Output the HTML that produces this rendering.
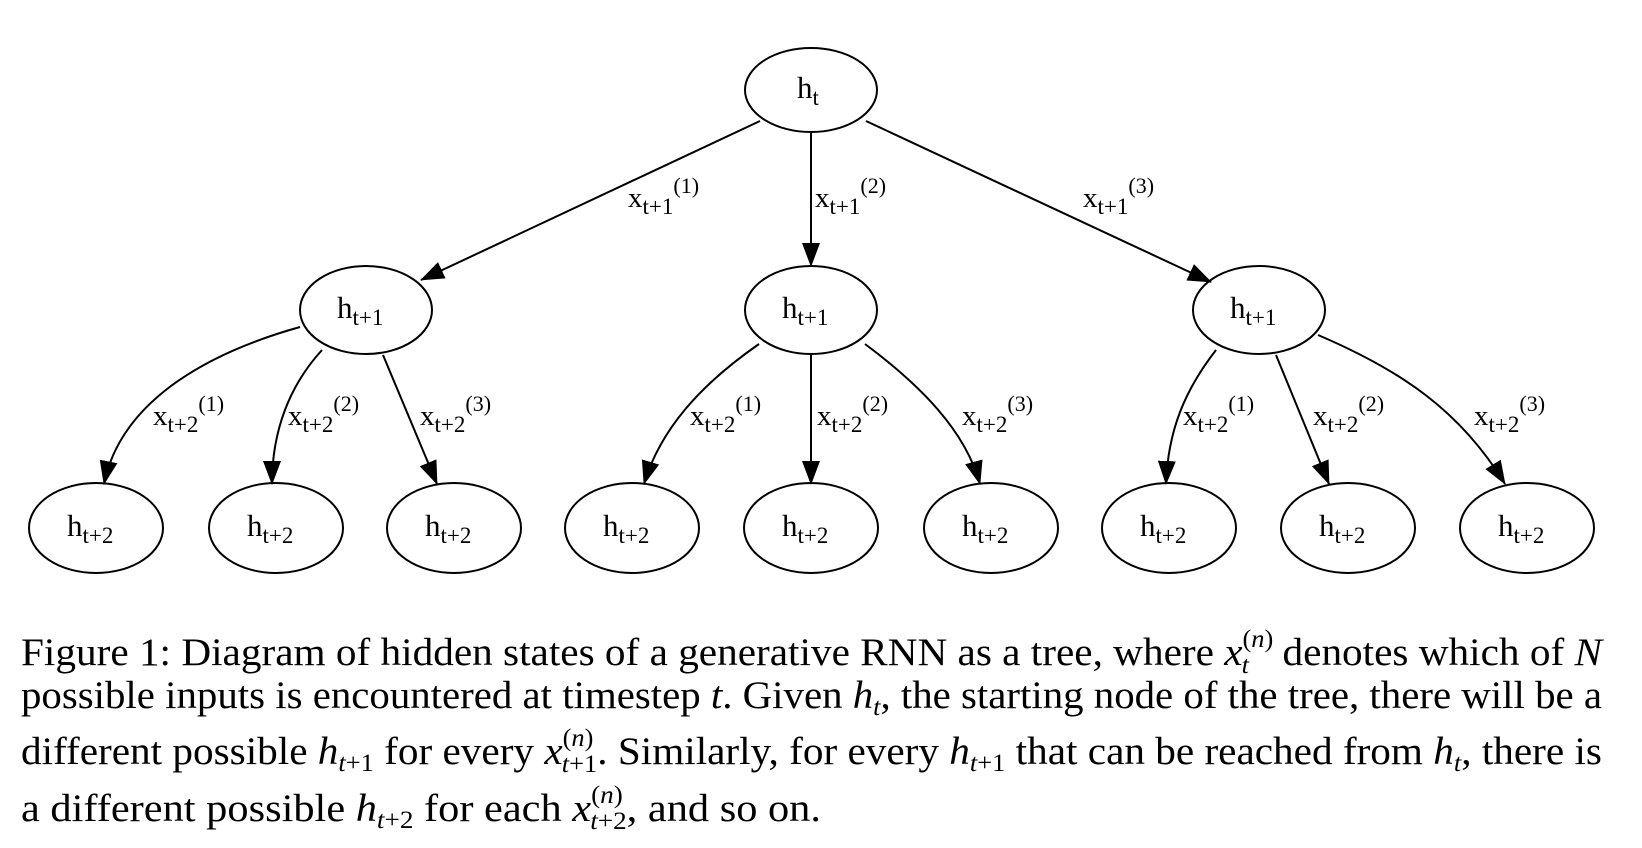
<!DOCTYPE html>
<html><head><meta charset="utf-8"><style>
html,body{margin:0;padding:0;background:#fff;}
svg{display:block;}
text{font-family:"Liberation Serif",serif;fill:#000;}
</style></head><body>
<svg width="1642" height="848" viewBox="0 0 1642 848" xmlns="http://www.w3.org/2000/svg">
<defs>
<marker id="a" markerWidth="24" markerHeight="18" refX="23" refY="9" orient="auto" markerUnits="userSpaceOnUse">
<path d="M0,0 L24,9 L0,18 Z" fill="#000"/>
</marker>
</defs>
<g fill="none" stroke="#000" stroke-width="2">
<ellipse cx="811" cy="90" rx="66" ry="42"/>
<ellipse cx="366" cy="310" rx="66" ry="44"/>
<ellipse cx="811" cy="310" rx="66" ry="44"/>
<ellipse cx="1259" cy="310" rx="66" ry="44"/>
<ellipse cx="96" cy="528" rx="67" ry="45"/>
<ellipse cx="276" cy="528" rx="67" ry="45"/>
<ellipse cx="454" cy="528" rx="67" ry="45"/>
<ellipse cx="632" cy="528" rx="67" ry="45"/>
<ellipse cx="811" cy="528" rx="67" ry="45"/>
<ellipse cx="991" cy="528" rx="67" ry="45"/>
<ellipse cx="1169" cy="528" rx="67" ry="45"/>
<ellipse cx="1348" cy="528" rx="67" ry="45"/>
<ellipse cx="1527" cy="528" rx="67" ry="45"/>
<g marker-end="url(#a)">
<path d="M760,121 L421,280"/>
<path d="M811,133 L811,266"/>
<path d="M866,121 L1211,282"/>
<path d="M300,327 C200,355 120,405 104,484"/>
<path d="M322,350 C290,385 272,430 272,484"/>
<path d="M383,355 L437,484"/>
<path d="M759,344 C700,385 660,430 644,484"/>
<path d="M811,354 L811,484"/>
<path d="M865,344 C920,385 965,430 980,484"/>
<path d="M1216,350 C1185,390 1168,430 1166,484"/>
<path d="M1276,355 L1329,484"/>
<path d="M1318,335 C1400,370 1460,410 1505,484"/>
</g>
</g>
<g font-size="31">
<text x="797" y="98">h<tspan font-size="23" dy="7">t</tspan></text>
<text x="337" y="318">h<tspan font-size="23" dy="7">t+1</tspan></text>
<text x="782" y="318">h<tspan font-size="23" dy="7">t+1</tspan></text>
<text x="1230" y="318">h<tspan font-size="23" dy="7">t+1</tspan></text>
<text x="67" y="536">h<tspan font-size="23" dy="7">t+2</tspan></text>
<text x="247" y="536">h<tspan font-size="23" dy="7">t+2</tspan></text>
<text x="425" y="536">h<tspan font-size="23" dy="7">t+2</tspan></text>
<text x="603" y="536">h<tspan font-size="23" dy="7">t+2</tspan></text>
<text x="782" y="536">h<tspan font-size="23" dy="7">t+2</tspan></text>
<text x="962" y="536">h<tspan font-size="23" dy="7">t+2</tspan></text>
<text x="1140" y="536">h<tspan font-size="23" dy="7">t+2</tspan></text>
<text x="1319" y="536">h<tspan font-size="23" dy="7">t+2</tspan></text>
<text x="1498" y="536">h<tspan font-size="23" dy="7">t+2</tspan></text>
</g>
<g font-size="29">
<text x="628" y="207">x<tspan font-size="23" dy="7">t+1</tspan><tspan font-size="22" dy="-21">(1)</tspan></text>
<text x="815" y="207">x<tspan font-size="23" dy="7">t+1</tspan><tspan font-size="22" dy="-21">(2)</tspan></text>
<text x="1083" y="207">x<tspan font-size="23" dy="7">t+1</tspan><tspan font-size="22" dy="-21">(3)</tspan></text>
<text x="153" y="425">x<tspan font-size="23" dy="7">t+2</tspan><tspan font-size="22" dy="-21">(1)</tspan></text>
<text x="288" y="425">x<tspan font-size="23" dy="7">t+2</tspan><tspan font-size="22" dy="-21">(2)</tspan></text>
<text x="420" y="425">x<tspan font-size="23" dy="7">t+2</tspan><tspan font-size="22" dy="-21">(3)</tspan></text>
<text x="690" y="425">x<tspan font-size="23" dy="7">t+2</tspan><tspan font-size="22" dy="-21">(1)</tspan></text>
<text x="817" y="425">x<tspan font-size="23" dy="7">t+2</tspan><tspan font-size="22" dy="-21">(2)</tspan></text>
<text x="962" y="425">x<tspan font-size="23" dy="7">t+2</tspan><tspan font-size="22" dy="-21">(3)</tspan></text>
<text x="1183" y="425">x<tspan font-size="23" dy="7">t+2</tspan><tspan font-size="22" dy="-21">(1)</tspan></text>
<text x="1313" y="425">x<tspan font-size="23" dy="7">t+2</tspan><tspan font-size="22" dy="-21">(2)</tspan></text>
<text x="1474" y="425">x<tspan font-size="23" dy="7">t+2</tspan><tspan font-size="22" dy="-21">(3)</tspan></text>
</g>
<g font-size="39">
<text x="21" y="665" textLength="1581" lengthAdjust="spacingAndGlyphs">Figure 1: Diagram of hidden states of a generative RNN as a tree, where <tspan font-style="italic">x</tspan><tspan font-size="25" dy="-18">(<tspan font-style="italic">n</tspan>)</tspan><tspan font-style="italic" font-size="25" dx="-30" dy="26">t</tspan><tspan dx="22" dy="-8"> denotes which of </tspan><tspan font-style="italic">N</tspan></text>
<text x="21" y="708" textLength="1581" lengthAdjust="spacingAndGlyphs">possible inputs is encountered at timestep <tspan font-style="italic">t</tspan>. Given <tspan font-style="italic">h</tspan><tspan font-style="italic" font-size="25" dy="7">t</tspan><tspan dy="-7">, the starting node of the tree, there will be a</tspan></text>
<text x="21" y="764" textLength="1581" lengthAdjust="spacingAndGlyphs">different possible <tspan font-style="italic">h</tspan><tspan font-size="25" dy="7"><tspan font-style="italic">t</tspan>+1</tspan><tspan dy="-7"> for every </tspan><tspan font-style="italic">x</tspan><tspan font-size="25" dy="-18">(<tspan font-style="italic">n</tspan>)</tspan><tspan font-size="25" dx="-30" dy="26"><tspan font-style="italic">t</tspan>+1</tspan><tspan dy="-8">. Similarly, for every </tspan><tspan font-style="italic">h</tspan><tspan font-size="25" dy="7"><tspan font-style="italic">t</tspan>+1</tspan><tspan dy="-7"> that can be reached from </tspan><tspan font-style="italic">h</tspan><tspan font-style="italic" font-size="25" dy="7">t</tspan><tspan dy="-7">, there is</tspan></text>
<text x="21" y="821" textLength="800" lengthAdjust="spacingAndGlyphs">a different possible <tspan font-style="italic">h</tspan><tspan font-size="25" dy="7"><tspan font-style="italic">t</tspan>+2</tspan><tspan dy="-7"> for each </tspan><tspan font-style="italic">x</tspan><tspan font-size="25" dy="-18">(<tspan font-style="italic">n</tspan>)</tspan><tspan font-size="25" dx="-30" dy="26"><tspan font-style="italic">t</tspan>+2</tspan><tspan dy="-8">, and so on.</tspan></text>
</g>
</svg>
</body></html>
